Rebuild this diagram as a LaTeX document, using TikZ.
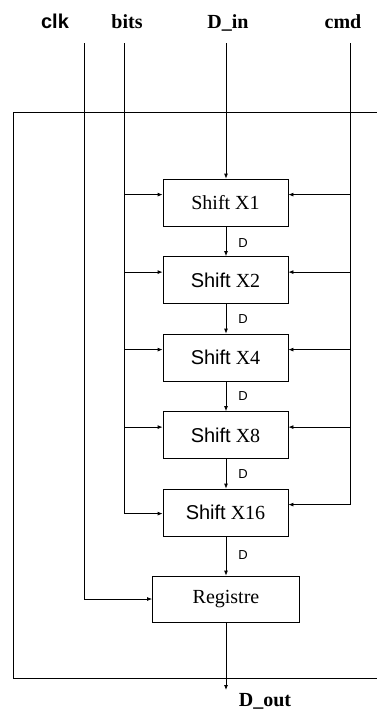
\documentclass[tikz,border=0pt]{standalone}
\usepackage{fontspec}
\setmainfont{Liberation Serif}
\setsansfont{Liberation Sans}
\usetikzlibrary{arrows.meta}
\begin{document}
\begin{tikzpicture}[x=1pt,y=-1pt,
  line width=0.8pt,
  arr/.style={-{Latex[length=5pt,width=4pt]}},
  shiftbox/.style={draw, minimum width=125pt, minimum height=47pt, inner sep=0pt,
    font=\fontsize{20}{24}\selectfont},
  toplab/.style={anchor=base, font=\bfseries\fontsize{20}{24}\selectfont},
  dlab/.style={xshift=17pt, font=\sffamily\fontsize{13}{13}\selectfont}]
\useasboundingbox (0,0) rectangle (377,710);
% outer frame
\draw (377,112) -- (13,112) -- (13,678) -- (377,678);
% labels
\node[toplab, font=\sffamily\bfseries\fontsize{20}{24}\selectfont] (clkL) at (55,28) {clk};
\node[toplab] (bitsL) at (127,28) {bits};
\node[toplab] (dinL) at (228,28) {D\_in};
\node[toplab] (cmdL) at (343,28) {cmd};
\node[toplab] (doutL) at (265,706) {D\_out};
% line tops
\coordinate (clktop) at (84,43);
\coordinate (bitstop) at (124,43);
\coordinate (dintop) at (226,43);
\coordinate (cmdtop) at (350,43);
\coordinate (doutend) at (226,690);
% boxes
\node[shiftbox] (X1) at (225.5,202.5) {Shift X1};
\node[shiftbox] (X2) at (225.5,280) {{\sffamily Shift} X2};
\node[shiftbox] (X4) at (225.5,357.5) {{\sffamily Shift} X4};
\node[shiftbox] (X8) at (225.5,435) {{\sffamily Shift} X8};
\node[shiftbox] (X16) at (225.5,512.5) {{\sffamily Shift} X16};
\node[shiftbox, minimum width=147pt, minimum height=46pt] (Reg) at (226,599) {Registre};
% input points
\coordinate (b1) at ([yshift=-16pt]X1.north west);
\coordinate (b2) at ([yshift=-16pt]X2.north west);
\coordinate (b4) at ([yshift=-16pt]X4.north west);
\coordinate (b8) at ([yshift=-16pt]X8.north west);
\coordinate (b16) at ([yshift=-25pt]X16.north west);
\coordinate (c1) at ([yshift=-16pt]X1.north east);
\coordinate (c2) at ([yshift=-16pt]X2.north east);
\coordinate (c4) at ([yshift=-16pt]X4.north east);
\coordinate (c8) at ([yshift=-16pt]X8.north east);
\coordinate (c16) at ([yshift=-16pt]X16.north east);
% bits
\draw[arr] (bitstop) |- (b16);
\foreach \k in {1,2,4,8} \draw[arr] (bitstop |- b\k) -- (b\k);
% cmd
\draw[arr] (cmdtop) |- (c16);
\foreach \k in {1,2,4,8} \draw[arr] (cmdtop |- c\k) -- (c\k);
% clk
\draw[arr] (clktop) |- (Reg.west);
% data path
\draw[arr] (dintop) -- (dintop |- X1.north);
\draw[arr] (X1.south -| dintop) -- node[dlab, pos=0.55] {D} (X2.north -| dintop);
\draw[arr] (X2.south -| dintop) -- node[dlab, pos=0.5] {D} (X4.north -| dintop);
\draw[arr] (X4.south -| dintop) -- node[dlab, pos=0.5] {D} (X8.north -| dintop);
\draw[arr] (X8.south -| dintop) -- node[dlab, pos=0.5] {D} (X16.north -| dintop);
\draw[arr] (X16.south -| dintop) -- node[dlab, pos=0.47] {D} (Reg.north -| dintop);
\draw[arr] (Reg.south -| dintop) -- (doutend);
\end{tikzpicture}
\end{document}
